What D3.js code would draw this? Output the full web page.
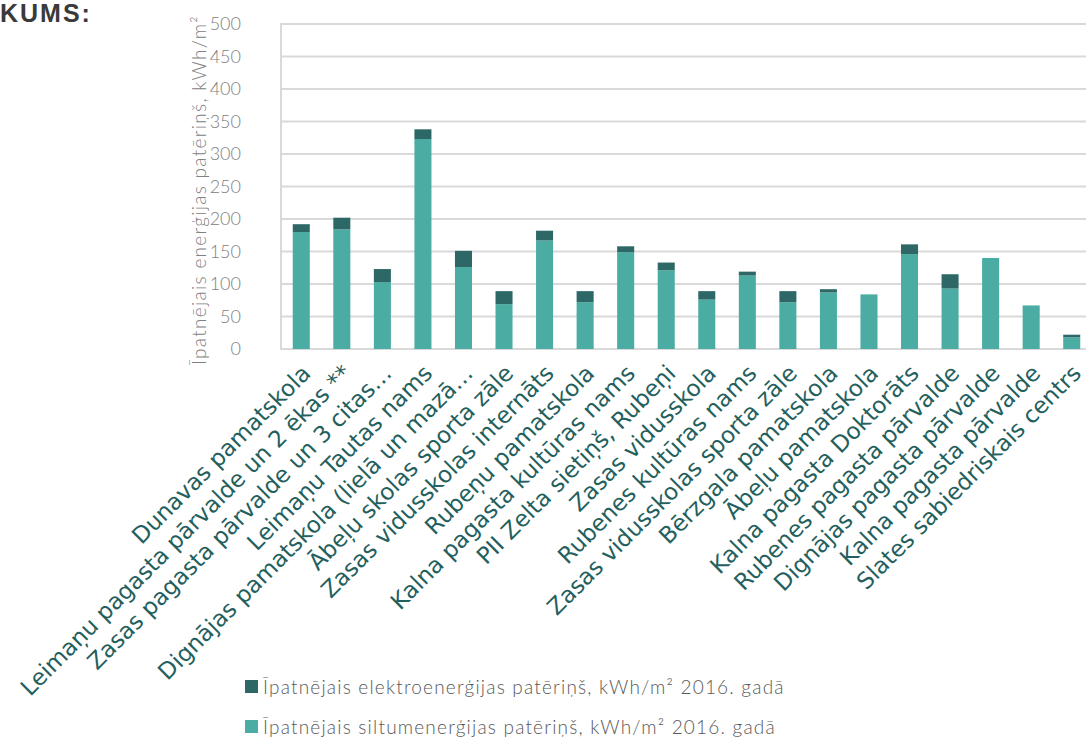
<!DOCTYPE html>
<html>
<head>
<meta charset="utf-8">
<script src="https://cdn.jsdelivr.net/npm/d3@7"></script>
<style>
  html, body { margin: 0; padding: 0; background: #ffffff; }
  svg { display: block; }
</style>
</head>
<body>
<svg id="chart" width="1086" height="742"></svg>
<script>
const categories = [
  "Dunavas pamatskola",
  "Leimaņu pagasta pārvalde un 2 ēkas **",
  "Zasas pagasta pārvalde un 3 citas…",
  "Leimaņu Tautas nams",
  "Dignājas pamatskola (lielā un mazā…",
  "Ābeļu skolas sporta zāle",
  "Zasas vidusskolas internāts",
  "Rubeņu pamatskola",
  "Kalna pagasta kultūras nams",
  "PII Zelta sietiņš, Rubeņi",
  "Zasas vidusskola",
  "Rubenes kultūras nams",
  "Zasas vidusskolas sporta zāle",
  "Bērzgala pamatskola",
  "Ābeļu pamatskola",
  "Kalna pagasta Doktorāts",
  "Rubenes pagasta pārvalde",
  "Dignājas pagasta pārvalde",
  "Kalna pagasta pārvalde",
  "Slates sabiedriskais centrs"
];
const heatValues = [180, 184, 103, 323, 126, 69, 167, 72, 149, 121, 76, 113, 72, 87, 84, 146, 93, 140, 67, 18];
const elecValues = [12, 18, 20, 15, 25, 20, 15, 17, 9, 12, 13, 6, 17, 5, 0, 15, 22, 0, 0, 4];
const yTicks = [0, 50, 100, 150, 200, 250, 300, 350, 400, 450, 500];
const seriesNames = [
  "Īpatnējais elektroenerģijas patēriņš, kWh/m² 2016. gadā",
  "Īpatnējais siltumenerģijas patēriņš, kWh/m² 2016. gadā"
];
const yTitle = "Īpatnējais enerģijas patēriņš, kWh/m²";
const headingText = "KUMS:";

const colorHeat = "#4aaca2";
const colorElec = "#2d6866";

const svg = d3.select("#chart");
const plotLeft = 281, plotRight = 1092, plotTop = 24, plotBottom = 349;

const x = d3.scaleBand().domain(categories).range([plotLeft, plotRight]).paddingInner(0.58).paddingOuter(0.29);
const y = d3.scaleLinear().domain([0, 500]).range([plotBottom, plotTop]);

// heading fragment
svg.append("text").attr("x", 0).attr("y", 22)
  .attr("font-family", "Liberation Sans, Arial, sans-serif").attr("font-weight", "bold")
  .attr("font-size", 25).attr("fill", "#3a3a3a").attr("letter-spacing", 2)
  .text(headingText);

// gridlines
svg.append("g").selectAll("line").data(yTicks).join("line")
  .attr("x1", plotLeft).attr("x2", plotRight)
  .attr("y1", d => y(d)).attr("y2", d => y(d))
  .attr("stroke", "#d9d9d9").attr("stroke-width", 2);
// left border
svg.append("line").attr("x1", plotLeft).attr("x2", plotLeft).attr("y1", plotTop - 1).attr("y2", plotBottom + 1)
  .attr("stroke", "#d9d9d9").attr("stroke-width", 2);

// y axis labels
const yAxis = d3.axisLeft(y).tickValues(yTicks).tickSize(0).tickPadding(0);
const yg = svg.append("g").attr("transform", `translate(241,0)`).call(yAxis);
yg.select(".domain").remove();
yg.selectAll("text").attr("font-family", "Lato, sans-serif").attr("font-weight", 300)
  .attr("font-size", 18).attr("fill", "#808080");

// y title
svg.append("text").attr("transform", "translate(206,190) rotate(-90)")
  .attr("text-anchor", "middle").attr("font-family", "Lato, sans-serif").attr("font-weight", 300)
  .attr("font-size", 19).attr("letter-spacing", 1.3).attr("fill", "#808080").text(yTitle);

// bars
const data = categories.map((c, i) => ({ c, heat: heatValues[i], elec: elecValues[i] }));
const g = svg.append("g");
g.selectAll("rect.heat").data(data).join("rect").attr("class", "heat")
  .attr("x", d => x(d.c)).attr("width", x.bandwidth())
  .attr("y", d => y(d.heat)).attr("height", d => y(0) - y(d.heat))
  .attr("fill", colorHeat);
g.selectAll("rect.elec").data(data.filter(d => d.elec > 0)).join("rect").attr("class", "elec")
  .attr("x", d => x(d.c)).attr("width", x.bandwidth())
  .attr("y", d => y(d.heat + d.elec)).attr("height", d => y(d.heat) - y(d.heat + d.elec))
  .attr("fill", colorElec);

// x labels
const xAxis = d3.axisBottom(x).tickSize(0).tickPadding(0);
const xg = svg.append("g").attr("transform", `translate(0,${plotBottom})`).call(xAxis);
xg.select(".domain").remove();
xg.selectAll("text")
  .attr("font-family", "DejaVu Sans, sans-serif").attr("font-size", 23)
  .attr("fill", "#23605d").attr("text-anchor", "end")
  .attr("transform", "translate(5,20) rotate(-45)").attr("dy", "0.35em").attr("y", 0);

// legend
const legend = svg.append("g");
const legendColors = [colorElec, colorHeat];
seriesNames.forEach((name, i) => {
  const ly = 687 + i * 40;
  legend.append("rect").attr("x", 245).attr("y", ly - 7).attr("width", 13).attr("height", 13).attr("fill", legendColors[i]);
  legend.append("text").attr("x", 263).attr("y", ly).attr("dy", "0.35em")
    .attr("font-family", "Lato, sans-serif").attr("font-weight", 300)
    .attr("font-size", 19).attr("letter-spacing", 1.2).attr("fill", "#595959").text(name);
});
</script>
</body>
</html>
